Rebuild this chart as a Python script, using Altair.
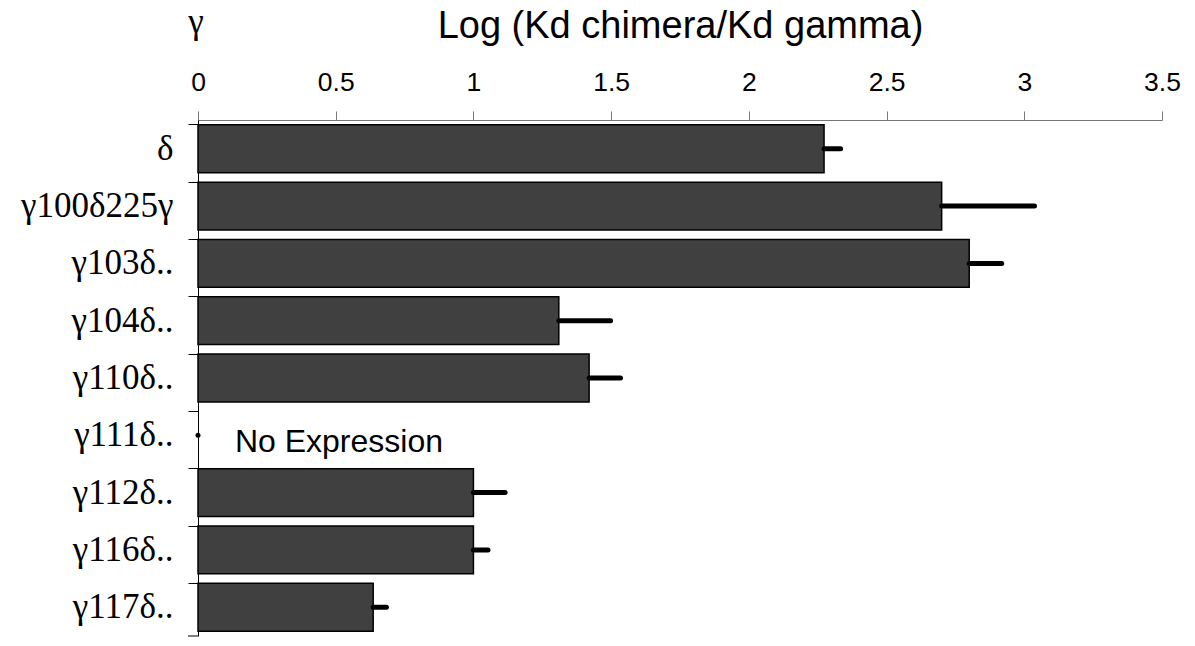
import altair as alt
import pandas as pd

categories = ["δ", "γ100δ225γ", "γ103δ..", "γ104δ..", "γ110δ..", "γ111δ..", "γ112δ..", "γ116δ..", "γ117δ.."]
values = [2.273, 2.70, 2.80, 1.31, 1.42, 0.0, 1.00, 1.00, 0.636]
errors = [0.06, 0.337, 0.118, 0.188, 0.114, 0.0, 0.115, 0.053, 0.048]
x_ticks = [0, 0.5, 1, 1.5, 2, 2.5, 3, 3.5]
annot_category = ["γ111δ.."]
annot_x = [0.134]
annot_text = ["No Expression"]
corner_label = ["γ"]

df = pd.DataFrame({"cat": categories, "value": values, "err": errors})
df["upper"] = df["value"] + df["err"]
ann = pd.DataFrame({"cat": annot_category, "x": annot_x, "text": annot_text})
corner = pd.DataFrame({"t": corner_label})

SANS = "Liberation Sans"
SERIF = "Liberation Serif"

yscale = alt.Scale(domain=categories, paddingInner=0.166, paddingOuter=0.085)
xscale = alt.Scale(domain=[0, 3.5], nice=False, zero=True)

x_axis = alt.Axis(
    orient="top", values=x_ticks, format="~g", grid=False, tickSize=9, tickColor="#777777",
    domainColor="#777777", labelFont=SANS, labelFontSize=26.5, labelColor="black",
    labelBaseline="alphabetic", labelPadding=21, labelFlush=False,
    title="Log (Kd chimera/Kd gamma)", titleFont=SANS, titleFontSize=38,
    titleFontWeight="normal", titleColor="black", titleX=482, titleY=-83,
    titleAlign="center", titleBaseline="alphabetic",
)
y_axis = alt.Axis(
    orient="left", title=None, bandPosition=0, tickSize=10, tickColor="black",
    domainColor="black", labelFont=SERIF, labelFontSize=35, labelColor="black",
    labelBaseline="alphabetic", labelOffset=11, labelPadding=15, labelAlign="right",
)

base = alt.Chart(df)

bars = base.mark_bar(fill="#404040", stroke="black", strokeWidth=1.5).transform_filter(
    "datum.value > 0"
).encode(
    x=alt.X("value:Q", scale=xscale, axis=x_axis),
    y=alt.Y("cat:N", scale=yscale, axis=y_axis, sort=categories),
)

errs = base.mark_rule(color="black", strokeWidth=5, strokeCap="round").encode(
    x=alt.X("value:Q", scale=xscale),
    x2="upper:Q",
    y=alt.Y("cat:N", scale=yscale, sort=categories),
)

note = alt.Chart(ann).mark_text(
    font=SANS, fontSize=32, align="left", baseline="alphabetic", dy=17, color="black"
).encode(
    x=alt.X("x:Q", scale=xscale),
    y=alt.Y("cat:N", scale=yscale, sort=categories),
    text="text:N",
)

gamma = alt.Chart(corner).mark_text(
    font=SERIF, fontSize=35, align="center", baseline="alphabetic", color="black"
).encode(
    x=alt.value(-2),
    y=alt.value(-87),
    text="t:N",
)

bottom_tick = alt.Chart(corner).mark_rule(color="black", strokeWidth=1).encode(
    x=alt.value(-10), x2=alt.value(0), y=alt.value(516)
)

chart = alt.layer(bars, errs, note, gamma, bottom_tick).properties(
    width=964, height=516,
    autosize=alt.AutoSizeParams(type="none"),
    padding={"left": 198, "top": 120, "right": 33, "bottom": 10},
    background="white",
).configure_view(stroke=None)

chart.save("out.html", embed_options={"renderer": "svg", "actions": False})
